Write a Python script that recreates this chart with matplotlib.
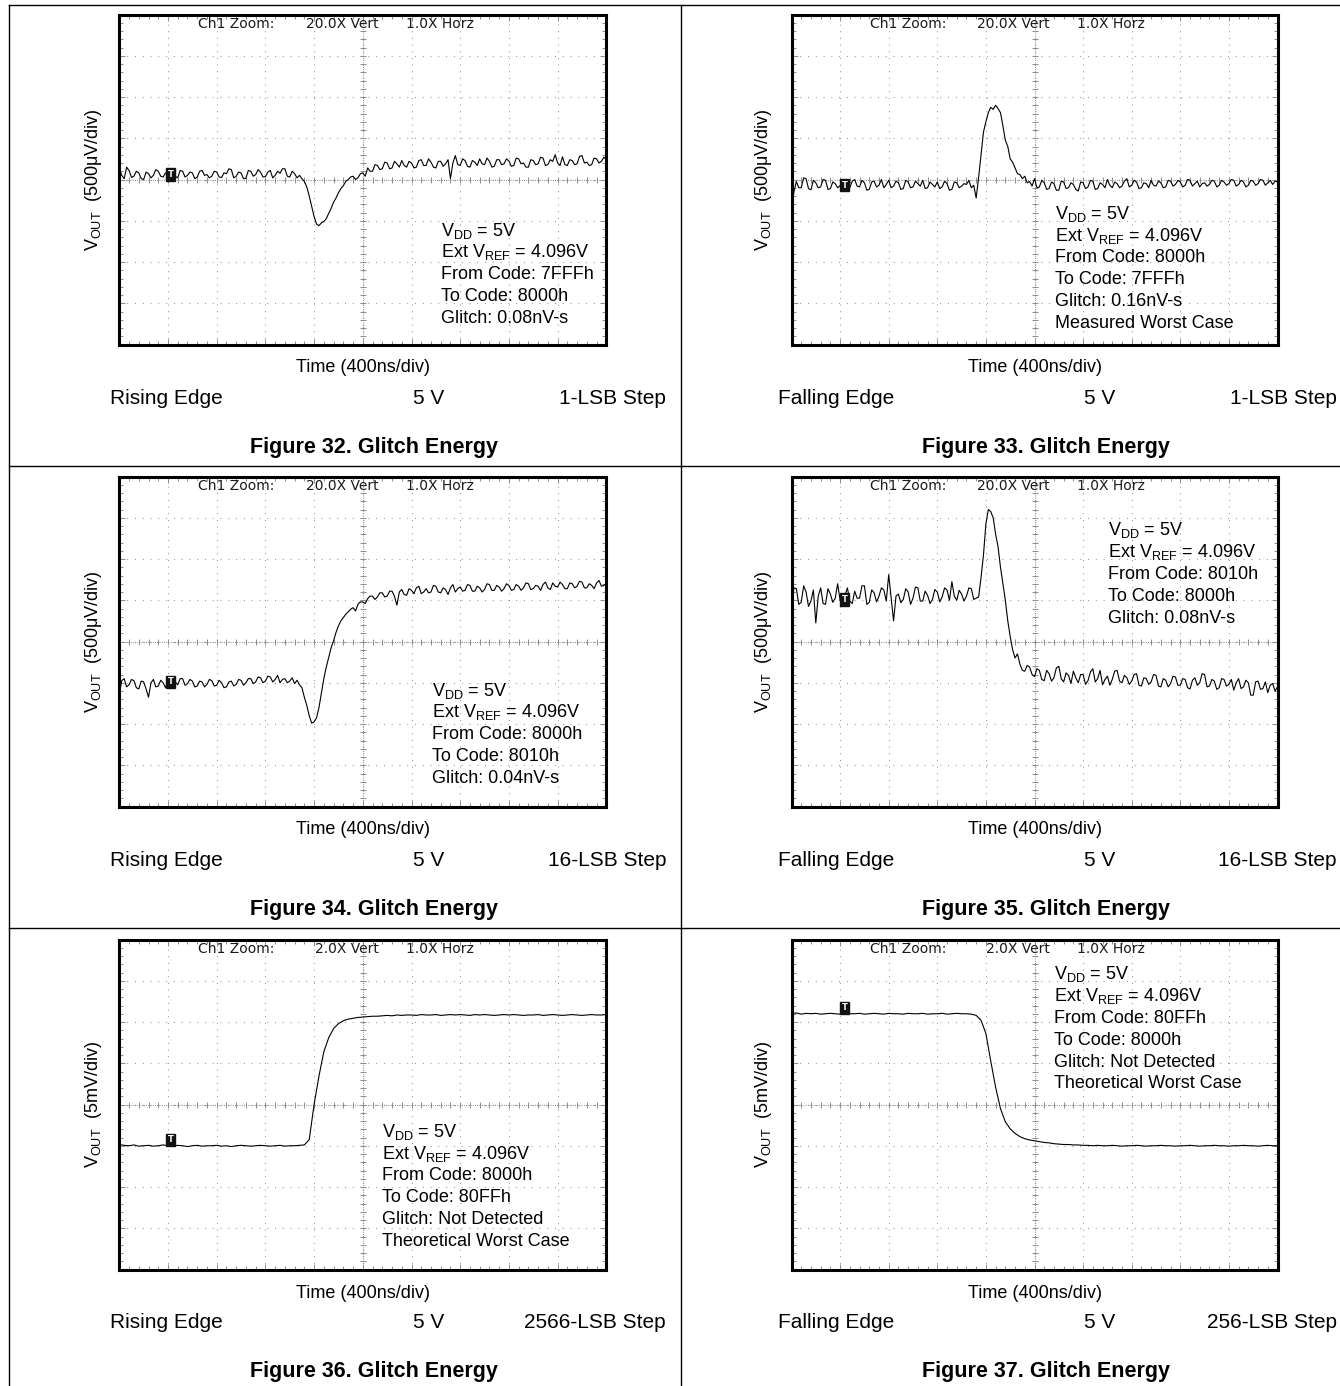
import numpy as np
import matplotlib
matplotlib.use("Agg")
import matplotlib.pyplot as plt
from matplotlib.lines import Line2D

plt.rcParams['font.family'] = ['Liberation Sans', 'DejaVu Sans']
plt.rcParams['mathtext.fontset'] = 'custom'
plt.rcParams['mathtext.rm'] = 'Liberation Sans'
plt.rcParams['mathtext.it'] = 'Liberation Sans:italic'
plt.rcParams['mathtext.bf'] = 'Liberation Sans:bold'

W, H = 1340, 1386

# scope traces in divisions (10 across, +-4 up/down)
# noisy ones: a sample every 0.05 div, clean steps: every 0.1 div
fig32_trace = [
    0.28, 0.10, 0.02, 0.30, 0.22, 0.05, 0.08, 0.20, 0.16, 0.02,
    0.00, 0.18, 0.14, 0.04, 0.10, 0.24, 0.20, 0.08, 0.06, 0.16,
    0.12, 0.00, 0.18, 0.08, 0.04, 0.22, 0.20, 0.06, 0.10, 0.18,
    0.16, 0.02, 0.06, 0.20, 0.22, 0.10, 0.12, 0.04, 0.08, 0.20,
    0.18, 0.06, 0.05, 0.16, 0.14, 0.26, 0.24, 0.04, 0.08, 0.18,
    0.16, 0.02, 0.03, 0.22, 0.20, 0.08, 0.12, 0.24, 0.18, 0.06,
    0.07, 0.18, 0.22, 0.04, 0.10, 0.20, 0.15, 0.26, 0.26, 0.08,
    0.06, 0.20, 0.14, 0.04, 0.10, 0.02, -0.05, -0.18, -0.40, -0.65,
    -0.90, -1.08, -1.12, -1.05, -1.02, -0.95, -0.82, -0.70, -0.55, -0.45,
    -0.32, -0.22, -0.15, -0.05, 0.00, 0.06, 0.08, 0.00, 0.04, 0.14,
    0.16, 0.08, 0.28, 0.20, 0.20, 0.36, 0.34, 0.24, 0.26, 0.42,
    0.40, 0.26, 0.28, 0.44, 0.38, 0.30, 0.46, 0.34, 0.30, 0.44,
    0.40, 0.28, 0.30, 0.46, 0.48, 0.34, 0.34, 0.50, 0.42, 0.30,
    0.28, 0.44, 0.44, 0.32, 0.38, 0.48, 0.02, 0.40, 0.58, 0.36,
    0.34, 0.50, 0.46, 0.32, 0.30, 0.46, 0.42, 0.34, 0.50, 0.38,
    0.36, 0.52, 0.44, 0.30, 0.32, 0.48, 0.48, 0.36, 0.38, 0.50,
    0.45, 0.32, 0.34, 0.52, 0.50, 0.38, 0.40, 0.30, 0.30, 0.48,
    0.46, 0.36, 0.38, 0.54, 0.52, 0.34, 0.36, 0.48, 0.44, 0.60,
    0.40, 0.34, 0.55, 0.36, 0.34, 0.48, 0.46, 0.36, 0.38, 0.56,
    0.58, 0.40, 0.42, 0.34, 0.36, 0.52, 0.50, 0.40, 0.44, 0.54,
    0.48]

fig33_trace = [
    -0.75, -0.30, -0.05, -0.20, -0.20, 0.04, 0.02, -0.22, -0.25, -0.02,
    -0.08, -0.20, -0.18, 0.00, -0.02, -0.24, -0.22, -0.06, -0.10, -0.20,
    -0.15, 0.00, -0.05, -0.22, -0.20, -0.04, 0.00, -0.16, -0.18, -0.02,
    -0.08, -0.26, -0.24, -0.06, -0.04, -0.18, -0.14, 0.00, -0.20, -0.12,
    -0.02, -0.20, -0.16, -0.04, -0.08, -0.24, -0.22, -0.02, -0.06, -0.20,
    -0.18, -0.04, -0.10, -0.16, -0.02, -0.22, -0.20, -0.06, -0.12, -0.18,
    -0.06, -0.22, -0.18, -0.04, -0.10, -0.26, -0.24, -0.06, -0.08, -0.20,
    -0.16, -0.10, -0.12, -0.02, -0.20, -0.14, -0.45, 0.05, 0.60, 1.15,
    1.40, 1.62, 1.75, 1.70, 1.80, 1.72, 1.62, 1.30, 0.95, 0.80,
    0.50, 0.42, 0.28, 0.14, 0.12, 0.02, 0.08, -0.08, -0.05, -0.16,
    0.02, -0.20, -0.18, -0.02, -0.08, -0.24, -0.22, -0.06, -0.10, -0.26,
    -0.26, -0.04, -0.06, -0.22, -0.20, -0.08, -0.12, -0.24, -0.28, -0.06,
    -0.08, -0.22, -0.18, -0.02, -0.04, -0.24, -0.22, -0.08, -0.12, -0.20,
    0.00, -0.14, -0.20, -0.06, -0.10, -0.20, -0.16, -0.04, 0.02, -0.18,
    -0.14, -0.02, -0.06, -0.22, -0.20, -0.08, -0.10, -0.20, -0.02, -0.14,
    -0.16, -0.04, -0.08, -0.20, -0.18, -0.02, -0.04, -0.16, -0.12, -0.02,
    -0.06, -0.18, -0.14, 0.00, -0.02, -0.16, -0.10, -0.04, -0.18, -0.10,
    -0.08, -0.16, -0.12, -0.02, -0.04, -0.18, -0.14, -0.02, -0.06, -0.14,
    -0.10, 0.00, -0.02, -0.16, -0.12, -0.02, -0.06, -0.18, -0.14, -0.02,
    -0.04, -0.14, -0.10, 0.00, -0.02, -0.14, -0.08, -0.02, -0.12, -0.04,
    -0.06]

fig34_trace = [
    -1.30, -0.95, -0.90, -1.10, -1.05, -0.92, -0.95, -1.12, -1.15, -0.96,
    -0.98, -1.15, -1.35, -1.00, -0.92, -1.10, -1.08, -0.94, -1.00, -1.12,
    -0.94, -1.05, -0.88, -0.98, -1.05, -0.90, -0.90, -1.06, -1.02, -0.92,
    -0.96, -1.10, -1.08, -0.96, -0.98, -1.10, -1.04, -0.92, -0.95, -1.08,
    -1.06, -0.94, -1.00, -1.12, -1.10, -0.98, -0.96, -1.08, -1.04, -0.92,
    -0.94, -1.06, -1.00, -0.90, -0.90, -1.02, -0.98, -0.86, -0.88, -1.00,
    -0.96, -0.84, -0.86, -0.98, -0.92, -0.82, -1.00, -0.92, -0.90, -1.00,
    -0.96, -0.88, -1.02, -0.94, -1.05, -1.12, -1.35, -1.55, -1.80, -1.98,
    -1.95, -1.85, -1.60, -1.25, -0.90, -0.62, -0.38, -0.15, 0.02, 0.22,
    0.38, 0.50, 0.58, 0.66, 0.72, 0.78, 0.82, 0.74, 0.90, 0.96,
    0.96, 0.92, 1.04, 1.10, 1.10, 1.02, 1.08, 1.18, 1.18, 1.08,
    1.10, 1.22, 1.22, 1.10, 0.88, 1.20, 1.26, 1.14, 1.12, 1.28,
    1.24, 1.16, 1.30, 1.34, 1.16, 1.20, 1.28, 1.18, 1.20, 1.36,
    1.34, 1.20, 1.18, 1.30, 1.26, 1.14, 1.30, 1.38, 1.20, 1.28,
    1.32, 1.22, 1.24, 1.38, 1.36, 1.22, 1.22, 1.34, 1.30, 1.20,
    1.26, 1.40, 1.38, 1.24, 1.24, 1.36, 1.32, 1.22, 1.28, 1.40,
    1.36, 1.24, 1.26, 1.38, 1.34, 1.24, 1.30, 1.42, 1.40, 1.26,
    1.28, 1.36, 1.34, 1.24, 1.38, 1.44, 1.30, 1.26, 1.42, 1.34,
    1.32, 1.44, 1.38, 1.28, 1.28, 1.42, 1.40, 1.30, 1.34, 1.46,
    1.44, 1.30, 1.30, 1.40, 1.36, 1.28, 1.42, 1.48, 1.34, 1.36,
    1.40]

fig35_trace = [
    0.80, 1.30, 1.28, 0.90, 0.95, 1.35, 1.20, 0.85, 0.98, 1.25,
    0.45, 1.10, 1.30, 0.92, 0.90, 1.28, 1.15, 0.95, 1.05, 1.40,
    1.00, 0.88, 1.12, 1.30, 0.98, 0.92, 1.22, 1.05, 1.05, 1.35,
    1.35, 0.90, 0.95, 1.25, 1.18, 0.96, 1.10, 1.30, 1.25, 0.98,
    1.62, 1.05, 0.50, 1.10, 1.15, 0.94, 1.02, 1.28, 1.20, 0.90,
    1.05, 1.32, 1.30, 0.98, 0.98, 1.22, 1.12, 0.92, 1.02, 1.26,
    1.20, 0.96, 1.08, 1.30, 1.25, 1.00, 1.45, 1.10, 1.00, 1.24,
    1.15, 0.98, 1.10, 1.30, 1.28, 1.02, 1.05, 1.08, 1.55, 2.10,
    2.85, 3.20, 3.15, 3.00, 2.60, 2.30, 1.80, 1.40, 1.00, 0.50,
    0.12, -0.20, -0.40, -0.30, -0.55, -0.70, -0.72, -0.58, -0.62, -0.80,
    -0.85, -0.66, -0.70, -0.92, -0.95, -0.70, -0.78, -0.96, -0.88, -0.64,
    -0.60, -0.90, -0.98, -0.76, -0.82, -1.02, -0.72, -0.88, -1.00, -0.80,
    -0.80, -1.04, -0.95, -0.74, -0.66, -0.98, -0.90, -0.70, -1.05, -0.92,
    -0.84, -1.06, -0.92, -0.72, -0.70, -0.96, -1.00, -0.82, -0.88, -1.04,
    -0.96, -0.80, -0.78, -1.06, -1.08, -0.88, -0.90, -1.04, -0.98, -0.80,
    -0.82, -1.08, -1.10, -0.90, -0.94, -1.10, -1.02, -0.84, -0.86, -1.06,
    -1.06, -0.90, -0.92, -1.12, -1.15, -0.94, -0.88, -1.06, -1.00, -0.78,
    -0.80, -1.10, -1.08, -0.92, -0.96, -1.16, -1.12, -0.90, -0.92, -1.08,
    -1.04, -0.92, -1.18, -1.00, -0.90, -1.14, -1.10, -0.94, -1.00, -1.30,
    -1.30, -0.98, -0.96, -1.16, -1.14, -0.98, -1.24, -1.06, -1.02, -1.20,
    -1.10]

fig36_trace = [
    -0.97, -0.99, -1.00, -0.98, -1.01, -1.00, -0.99, -1.01, -1.00, -0.98,
    -1.00, -1.01, -0.99, -1.00, -1.02, -1.00, -0.99, -1.01, -1.00, -1.00,
    -0.99, -1.01, -1.00, -1.02, -1.00, -0.99, -1.00, -1.01, -1.00, -0.99,
    -1.00, -1.01, -1.00, -0.99, -1.01, -1.00, -1.00, -0.99, -0.98, -0.85,
    0.00, 0.69, 1.28, 1.62, 1.84, 1.96, 2.03, 2.07, 2.09, 2.11,
    2.12, 2.13, 2.14, 2.14, 2.15, 2.16, 2.15, 2.17, 2.16, 2.17,
    2.17, 2.16, 2.18, 2.17, 2.17, 2.18, 2.16, 2.17, 2.18, 2.17,
    2.18, 2.17, 2.16, 2.18, 2.17, 2.18, 2.17, 2.16, 2.17, 2.18,
    2.17, 2.18, 2.17, 2.16, 2.17, 2.17, 2.18, 2.16, 2.17, 2.18,
    2.17, 2.16, 2.17, 2.18, 2.17, 2.16, 2.17, 2.18, 2.17, 2.17,
    2.18]

fig37_trace = [
    2.20, 2.22, 2.19, 2.21, 2.20, 2.21, 2.19, 2.20, 2.21, 2.20,
    2.19, 2.21, 2.20, 2.20, 2.21, 2.19, 2.20, 2.21, 2.20, 2.19,
    2.21, 2.20, 2.20, 2.19, 2.21, 2.20, 2.20, 2.21, 2.19, 2.20,
    2.20, 2.21, 2.19, 2.20, 2.21, 2.20, 2.20, 2.19, 2.16, 2.04,
    1.72, 1.05, 0.42, -0.10, -0.42, -0.59, -0.70, -0.78, -0.83, -0.86,
    -0.88, -0.90, -0.92, -0.93, -0.95, -0.96, -0.97, -0.97, -0.98, -0.98,
    -0.99, -0.99, -1.00, -0.99, -1.00, -1.00, -0.99, -1.00, -1.01, -1.00,
    -1.00, -0.99, -1.00, -1.01, -1.00, -1.00, -0.99, -1.00, -1.00, -1.01,
    -1.00, -1.00, -0.99, -1.00, -1.01, -1.00, -1.00, -0.99, -1.00, -1.00,
    -1.01, -1.00, -1.00, -0.99, -1.00, -1.00, -1.01, -1.00, -0.99, -1.00,
    -1.00]

fig_numbers = [32, 33, 34, 35, 36, 37]
edges = ["Rising Edge", "Falling Edge"] * 3
steps = ["1-LSB Step", "1-LSB Step", "16-LSB Step", "16-LSB Step",
         "2566-LSB Step", "256-LSB Step"]
vert_zoom = ["20.0X", "20.0X", "20.0X", "20.0X", "2.0X", "2.0X"]
vert_scale = ["500μV/div"] * 4 + ["5mV/div"] * 2
traces = [fig32_trace, fig33_trace, fig34_trace, fig35_trace,
          fig36_trace, fig37_trace]
sample_step = [0.05, 0.05, 0.05, 0.05, 0.1, 0.1]
trigger_x = [1.05, 1.09, 1.05, 1.09, 1.05, 1.09]
trigger_y = [0.12, -0.14, -0.98, 1.02, -0.86, 2.34]
from_codes = ["7FFFh", "8000h", "8000h", "8010h", "8000h", "80FFh"]
to_codes = ["8000h", "7FFFh", "8010h", "8000h", "80FFh", "8000h"]
glitches = ["0.08nV-s", "0.16nV-s", "0.04nV-s", "0.08nV-s",
            "Not Detected", "Not Detected"]
remarks = ["", "Measured Worst Case", "", "",
           "Theoretical Worst Case", "Theoretical Worst Case"]
# where the condition block sits (div): left edge, first line centre
note_x = [6.60, 5.42, 6.43, 6.51, 5.39, 5.41]
note_y = [-1.21, -0.80, -1.16, 2.72, -0.63, 3.19]


def fx(px):
    return px / W


def fy(py):
    return 1 - py / H


fig = plt.figure(figsize=(W / 100, H / 100), dpi=100)

# page rules
rules = [([9, 1340], [5, 5]), ([9, 9], [5, H]), ([681, 681], [5, H]),
         ([9, 1340], [466, 466]), ([9, 1340], [928, 928])]
for xs, ys in rules:
    fig.add_artist(Line2D([fx(v) for v in xs], [fy(v) for v in ys],
                          color='black', lw=1.0, transform=fig.transFigure))

box_left = [119.3, 791.5]
box_w = [487, 486]
box_top = [14.5, 476.5, 939.5]
box_h = 330
time_x = [363, 1035]
edge_x = [110, 778]
volt_x = [429, 1100]
step_x = [666, 1337]
cap_x = [374, 1046]
ylab_x = [93, 764]
grid_grey = '#8c8c8c'
head = dict(va='center', fontsize=10, family='DejaVu Sans', color='#1a1a1a')

for i in range(6):
    col, row = i % 2, i // 2
    x0, top = box_left[col], box_top[row]
    ax = fig.add_axes([fx(x0), fy(top + box_h), box_w[col] / W, box_h / H])
    ax.set_xlim(0, 10)
    ax.set_ylim(-4, 4)
    ax.set_xticks(np.arange(0, 11, 1))
    ax.set_yticks(np.arange(-4, 5, 1))
    ax.set_xticks(np.arange(0, 10.01, 0.2), minor=True)
    ax.set_yticks(np.arange(-4, 4.01, 0.2), minor=True)
    ax.tick_params(which='both', direction='in', top=True, right=True,
                   labelbottom=False, labelleft=False, color=grid_grey,
                   width=0.7)
    ax.tick_params(which='major', length=4)
    ax.tick_params(which='minor', length=3)
    ax.xaxis.grid(True, which='major', color=grid_grey, lw=0.8,
                  linestyle=(0, (0.8, 5.2)))
    ax.yaxis.grid(True, which='major', color=grid_grey, lw=0.8,
                  linestyle=(0, (0.8, 6.2)))
    # centre graticule lines with their 0.2 div marks
    ax.axhline(0, color=grid_grey, lw=0.8, linestyle=(0, (0.8, 1.2)))
    ax.axvline(5, color=grid_grey, lw=0.8, linestyle=(0, (0.8, 1.2)))
    marks = np.arange(0, 10.01, 0.2)
    ax.plot(marks, np.zeros_like(marks), ls='none', marker='|', ms=4,
            mew=0.7, color=grid_grey)
    marks = np.arange(-4, 4.01, 0.2)
    ax.plot(np.full_like(marks, 5), marks, ls='none', marker='_', ms=4,
            mew=0.7, color=grid_grey)
    for sp in ax.spines.values():
        sp.set_linewidth(2.2)
    ax.set_axisbelow(True)

    tr = traces[i]
    t = np.arange(len(tr)) * sample_step[i]
    ax.plot(t, tr, color='black', lw=0.8, zorder=3)

    ax.text(trigger_x[i], trigger_y[i], 'T', ha='center', va='center',
            fontsize=6, color='white', fontweight='bold', zorder=4,
            family='DejaVu Sans',
            bbox=dict(boxstyle='square,pad=0.2', fc='#111111', ec='#111111'))

    # scope header
    ax.text(1.61, 3.76, 'Ch1 Zoom:', **head)
    ax.text(5.32, 3.76, vert_zoom[i] + ' Vert', ha='right', **head)
    ax.text(5.88, 3.76, '1.0X Horz', **head)

    lines = [r'V$_{\rm DD}$ = 5V', r'Ext V$_{\rm REF}$ = 4.096V',
             'From Code: ' + from_codes[i], 'To Code: ' + to_codes[i],
             'Glitch: ' + glitches[i]]
    if remarks[i]:
        lines.append(remarks[i])
    for k, s in enumerate(lines):
        ax.text(note_x[i], note_y[i] - 0.53 * k - 0.15, s, va='baseline',
                ha='left', fontsize=13, zorder=5)

    yc = top + box_h / 2
    fig.text(fx(ylab_x[col]), fy(yc), r'V$_{\rm OUT}$  (' + vert_scale[i] + ')',
             rotation=90, ha='center', va='center', fontsize=13)
    fig.text(fx(time_x[col]), fy(top + 353.5), 'Time (400ns/div)',
             ha='center', va='center', fontsize=13)
    fig.text(fx(edge_x[col]), fy(top + 383.5), edges[i],
             ha='left', va='center', fontsize=15)
    fig.text(fx(volt_x[col]), fy(top + 383.5), '5 V',
             ha='center', va='center', fontsize=15)
    fig.text(fx(step_x[col]), fy(top + 383.5), steps[i],
             ha='right', va='center', fontsize=15)
    fig.text(fx(cap_x[col]), fy(top + 432.5),
             'Figure %d. Glitch Energy' % fig_numbers[i],
             ha='center', va='center', fontsize=15.5, fontweight='bold')

fig.savefig('out.png', dpi=100)
